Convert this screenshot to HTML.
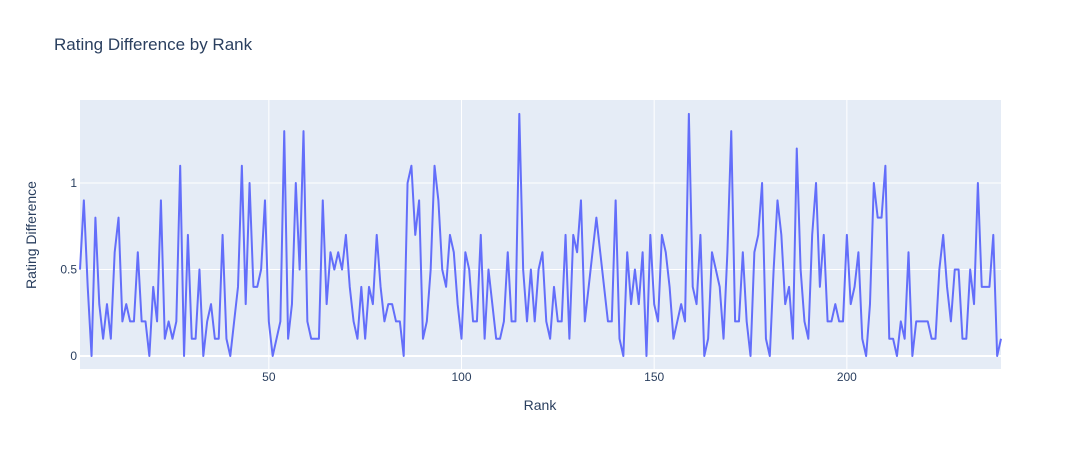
<!DOCTYPE html>
<html><head><meta charset="utf-8"><style>
body{margin:0;background:#fff;font-family:"Liberation Sans",Arial,sans-serif;}
svg text{font-family:"Liberation Sans",Arial,sans-serif;fill:#2a3f5f;}
</style></head><body>
<svg id="chart" width="1082" height="450" xmlns="http://www.w3.org/2000/svg">
<rect x="0" y="0" width="1082" height="450" fill="#fff"/>
<rect x="80" y="100" width="921" height="269" fill="#e5ecf6"/>
<g id="grid"></g>
<g id="ticks"></g>
<g id="series"></g>
<text x="54" y="50" font-size="17">Rating Difference by Rank</text>
<text x="540" y="410" font-size="14" text-anchor="middle">Rank</text>
<text x="36" y="235" font-size="14" text-anchor="middle" transform="rotate(-90 36 235)">Rating Difference</text>
</svg>
<script>
const ratingDiff = [
0.5,0.9,0.4,0,0.8,0.3,0.1,0.3,0.1,0.6,0.8,0.2,0.3,0.2,0.2,0.6,0.2,0.2,0,0.4,
0.2,0.9,0.1,0.2,0.1,0.2,1.1,0,0.7,0.1,0.1,0.5,0,0.2,0.3,0.1,0.1,0.7,0.1,0,
0.2,0.4,1.1,0.3,1.0,0.4,0.4,0.5,0.9,0.2,0,0.1,0.2,1.3,0.1,0.3,1.0,0.5,1.3,0.2,
0.1,0.1,0.1,0.9,0.3,0.6,0.5,0.6,0.5,0.7,0.4,0.2,0.1,0.4,0.1,0.4,0.3,0.7,0.4,0.2,
0.3,0.3,0.2,0.2,0,1.0,1.1,0.7,0.9,0.1,0.2,0.5,1.1,0.9,0.5,0.4,0.7,0.6,0.3,0.1,
0.6,0.5,0.2,0.2,0.7,0.1,0.5,0.3,0.1,0.1,0.2,0.6,0.2,0.2,1.4,0.5,0.2,0.5,0.2,0.5,
0.6,0.2,0.1,0.4,0.2,0.2,0.7,0.1,0.7,0.6,0.9,0.2,0.4,0.6,0.8,0.6,0.4,0.2,0.2,0.9,
0.1,0,0.6,0.3,0.5,0.3,0.6,0,0.7,0.3,0.2,0.7,0.6,0.4,0.1,0.2,0.3,0.2,1.4,0.4,
0.3,0.7,0,0.1,0.6,0.5,0.4,0.1,0.6,1.3,0.2,0.2,0.6,0.2,0,0.6,0.7,1.0,0.1,0,
0.5,0.9,0.7,0.3,0.4,0.1,1.2,0.5,0.2,0.1,0.7,1.0,0.4,0.7,0.2,0.2,0.3,0.2,0.2,0.7,
0.3,0.4,0.6,0.1,0,0.3,1.0,0.8,0.8,1.1,0.1,0.1,0,0.2,0.1,0.6,0,0.2,0.2,0.2,
0.2,0.1,0.1,0.5,0.7,0.4,0.2,0.5,0.5,0.1,0.1,0.5,0.3,1.0,0.4,0.4,0.4,0.7,0,0.1
];
const xTicks = [50,100,150,200];
const yTicks = [0,0.5,1];
const yTickLabels = ["0","0.5","1"];

const NS="http://www.w3.org/2000/svg";
const X0=80,X1=1001,Y0=369,Y1=100;
const xMin=1,xMax=240,yMin=-0.075,yMax=1.48;
function xs(v){return X0+(v-xMin)/(xMax-xMin)*(X1-X0);}
function ys(v){return Y0-(v-yMin)/(yMax-yMin)*(Y0-Y1);}
const grid=document.getElementById('grid'),ticks=document.getElementById('ticks'),series=document.getElementById('series');
function mk(tag,attrs,parent){const e=document.createElementNS(NS,tag);for(const k in attrs)e.setAttribute(k,attrs[k]);parent.appendChild(e);return e;}
xTicks.forEach(t=>{
  const l=mk('line',{x1:xs(t),x2:xs(t),y1:Y1,y2:Y0,stroke:'#fff','stroke-width':1},grid);
  
  
  const tx=mk('text',{x:xs(t),y:381,'font-size':12,'text-anchor':'middle'},ticks);
  tx.textContent=t;
  
  
});
yTicks.forEach((t,i)=>{
  const l=mk('line',{x1:X0,x2:X1,y1:ys(t),y2:ys(t),stroke:'#fff','stroke-width':t===0?2:1},grid);
  
  
  const tx=mk('text',{x:77,y:ys(t)+4,'font-size':12,'text-anchor':'end'},ticks);
  tx.textContent=yTickLabels[i];
  
  
});
const pts=ratingDiff.map((v,i)=>xs(i+1).toFixed(2)+','+ys(v).toFixed(2)).join(' ');
const pl=mk('polyline',{points:pts,fill:'none',stroke:'#636efa','stroke-width':2,'stroke-linejoin':'round'},series);


</script>
</body></html>
